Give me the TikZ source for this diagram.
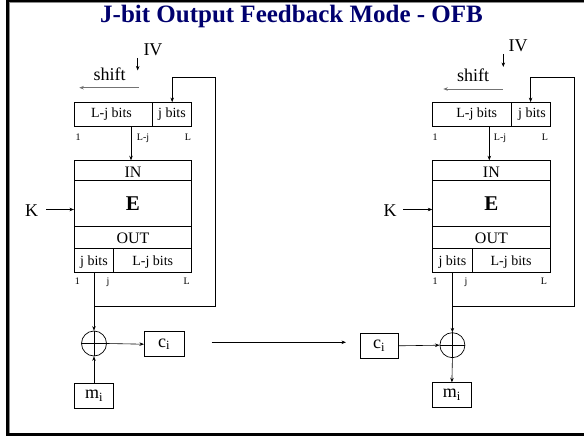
\documentclass[tikz,border=0pt]{standalone}
\usepackage{fontspec}
\setmainfont{Liberation Serif}
\usetikzlibrary{arrows.meta}
\definecolor{titleblue}{RGB}{0,0,110}
\begin{document}
\begin{tikzpicture}[x=1pt,y=-1pt,
  box/.style={draw, line width=0.8pt, inner sep=0pt, rectangle},
  wire/.style={line width=0.6pt},
  arr/.style={wire, -{Stealth[length=4.5pt,width=3.5pt]}},
  fs/.style={font=\fontsize{#1}{#1}\selectfont},
  txt/.style={inner sep=0pt, anchor=base},
  xorn/.style={draw, circle, line width=0.7pt, minimum size=25pt, inner sep=0pt},
  graywire/.style={line width=0.8pt, draw=black!55, -{Stealth[length=4.5pt,width=3.5pt]}}]
\useasboundingbox (0,0) rectangle (584,436);
% frame
\draw[line width=3pt] (7.5,435) -- (7.5,1) -- (584,1);
\draw[line width=3pt] (6,434.5) -- (584,434.5);
\draw[line width=0.8pt, black!45] (9.6,433) -- (9.6,2.8) -- (584,2.8);
% title
\node[txt, fs=25, text=titleblue] (title) at (291.5,23) {\bfseries J-bit Output Feedback Mode - OFB};

% ===== left panel =====
\node[txt, fs=18] (livt) at (153,56) {IV};
\coordinate (liva) at (137.7,58);
\coordinate (livb) at (137.7,70.5);
\draw[arr] (liva) -- (livb);
\node[txt, fs=18] (lsht) at (109.5,81) {shift};
\coordinate (lsha) at (139,87.7);
\coordinate (lshb) at (79.3,87.7);
\draw[graywire] (lsha) -- (lshb);
\node[box, minimum width=78.4pt, minimum height=24.2pt] (lrl) at (113.5,114.6) {};
\node[box, minimum width=39pt, minimum height=24.2pt] (lrr) at (172.2,114.6) {};
\node[txt, fs=14] (lrlt) at (111.5,117.7) {L-j bits};
\node[txt, fs=14] (lrrt) at (172,117.7) {j bits};
\node[txt, fs=10] (ll1) at (78,140) {1};
\node[txt, fs=10] (ll2) at (143,140) {L-j};
\node[txt, fs=10] (ll3) at (188,140) {L};
\node[box, minimum width=117.4pt, minimum height=19.3pt] (lin) at (133,170.35) {};
\node[box, minimum width=117.4pt, minimum height=46.7pt] (lE) at (133,203.35) {};
\node[box, minimum width=117.4pt, minimum height=21.6pt] (lout) at (133,237.5) {};
\node[box, minimum width=39.4pt, minimum height=24pt] (lbj) at (94,260.3) {};
\node[box, minimum width=78pt, minimum height=24pt] (lbl) at (152.7,260.3) {};
\node[txt, fs=16] (lint) at (133,177.3) {IN};
\node[txt, fs=21] (lEt) at (133,210.7) {\bfseries E};
\node[txt, fs=16] (loutt) at (133,243.3) {OUT};
\node[txt, fs=14] (lbjt) at (94,265) {j bits};
\node[txt, fs=14] (lblt) at (152.7,265) {L-j bits};
\node[txt, fs=10] (lb1) at (77.3,284) {1};
\node[txt, fs=10] (lb2) at (108,284) {j};
\node[txt, fs=10] (lb3) at (186.7,284) {L};
\node[txt, fs=18] (lK) at (31.7,216) {K};
\coordinate (lKa) at (46,209.5);
\draw[arr] (lKa) -- (lKa -| lE.west);
\coordinate (lrd) at (131,126.7);
\draw[arr] (lrd) -- (lrd |- lin.north);
\node[xorn] (lx) at (94,343.5) {};
\draw[wire] (lx.north) -- (lx.south) (lx.west) -- (lx.east);
\draw[arr] (lbj.south) -- (lx.north);
\coordinate (lfa) at (94,306.7);
\coordinate (lfb) at (215.7,77.7);
\draw[arr] (lfa) -| (lfb) -| (lrr.north);
\node[box, minimum width=39.7pt, minimum height=25pt, fs=18] (lc) at (164.2,344.2) {c\textsubscript{i}};
\draw[arr] (lx.east) -- (lc.west);
\node[box, minimum width=39.4pt, minimum height=25pt, fs=18] (lm) at (94,395.8) {m\textsubscript{i}};
\draw[arr] (lm.north) -- (lx.south);

% channel arrow
\coordinate (cha) at (211.7,342.3);
\coordinate (chb) at (346,342.3);
\draw[arr] (cha) -- (chb);

% ===== right panel =====
\node[txt, fs=18] (rivt) at (518,51.5) {IV};
\coordinate (riva) at (503.3,54);
\coordinate (rivb) at (503.3,67);
\draw[arr] (riva) -- (rivb);
\node[txt, fs=18] (rsht) at (473,81.5) {shift};
\coordinate (rsha) at (502.7,89);
\coordinate (rshb) at (443.3,89);
\draw[graywire] (rsha) -- (rshb);
\node[box, minimum width=78.4pt, minimum height=24.2pt] (rrl) at (471.9,114.6) {};
\node[box, minimum width=39pt, minimum height=24.2pt] (rrr) at (530.6,114.6) {};
\node[txt, fs=14] (rrlt) at (476.7,117.7) {L-j bits};
\node[txt, fs=14] (rrrt) at (532,117.7) {j bits};
\node[txt, fs=10] (rl1) at (435,140) {1};
\node[txt, fs=10] (rl2) at (500,140) {L-j};
\node[txt, fs=10] (rl3) at (545,140) {L};
\node[box, minimum width=117.4pt, minimum height=19.3pt] (rin) at (491.4,170.35) {};
\node[box, minimum width=117.4pt, minimum height=46.7pt] (rE) at (491.4,203.35) {};
\node[box, minimum width=117.4pt, minimum height=21.6pt] (rout) at (491.4,237.5) {};
\node[box, minimum width=39.4pt, minimum height=24pt] (rbj) at (452.4,260.3) {};
\node[box, minimum width=78pt, minimum height=24pt] (rbl) at (511.1,260.3) {};
\node[txt, fs=16] (rint) at (491.4,177.3) {IN};
\node[txt, fs=21] (rEt) at (491.4,210.7) {\bfseries E};
\node[txt, fs=16] (routt) at (491.4,243.3) {OUT};
\node[txt, fs=14] (rbjt) at (452.4,265) {j bits};
\node[txt, fs=14] (rblt) at (511.1,265) {L-j bits};
\node[txt, fs=10] (rb1) at (435,284) {1};
\node[txt, fs=10] (rb2) at (466,284) {j};
\node[txt, fs=10] (rb3) at (544,284) {L};
\node[txt, fs=18] (rK) at (390,216) {K};
\coordinate (rKa) at (403,209.5);
\draw[arr] (rKa) -- (rKa -| rE.west);
\coordinate (rrd) at (489.3,126.7);
\draw[arr] (rrd) -- (rrd |- rin.north);
\node[xorn] (rx) at (452.4,345.2) {};
\draw[wire] (rx.north) -- (rx.south) (rx.west) -- (rx.east);
\draw[arr] (rbj.south) -- (rx.north);
\coordinate (rfa) at (452.4,306.7);
\coordinate (rfb) at (574.3,77.7);
\draw[arr] (rfa) -| (rfb) -| (rrr.north);
\node[box, minimum width=38.3pt, minimum height=25pt, fs=18] (rc) at (379.2,345.8) {c\textsubscript{i}};
\draw[arr] (rc.east) -- (rx.west);
\node[box, minimum width=38.3pt, minimum height=24.6pt, fs=18] (rm) at (451.9,395) {m\textsubscript{i}};
\draw[arr] (rx.south) -- (rm.north);
\end{tikzpicture}
\end{document}
